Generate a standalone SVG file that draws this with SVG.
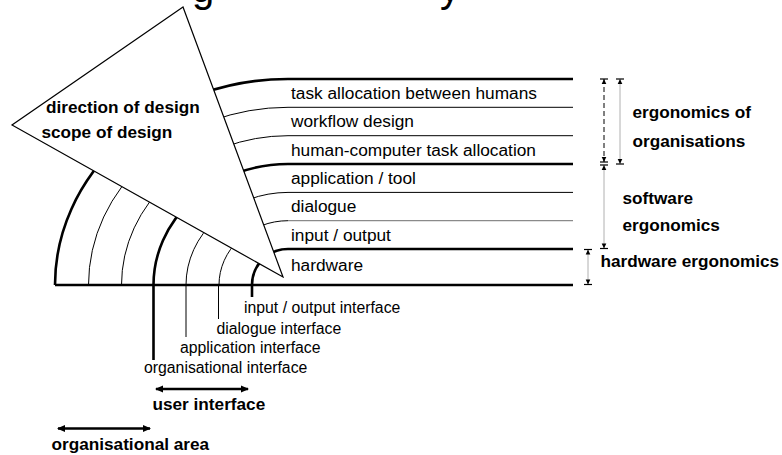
<svg xmlns="http://www.w3.org/2000/svg" width="782" height="455" viewBox="0 0 782 455">
  <style>
    text { font-family: "Liberation Sans", Arial, sans-serif; fill: #000; }
    .lbl { font-size: 17.3px; }
    .ifc { font-size: 15.8px; }
    .b { font-size: 17.2px; font-weight: bold; }
    .thin { fill: none; stroke: #000; stroke-width: 1; }
    .grey { fill: none; stroke: #8a8a8a; stroke-width: 1.3; }
    .thick { fill: none; stroke: #000; stroke-width: 2.6; }
    .dim { fill: none; stroke: #b0b0b0; stroke-width: 1; marker-start: url(#dimEnd); marker-end: url(#dimEnd); }
    .dimDash { fill: none; stroke: #000; stroke-width: 1; stroke-dasharray: 5 3; marker-start: url(#dimEnd); marker-end: url(#dimEnd); }
    .span { fill: none; stroke: #000; stroke-width: 2.4; marker-start: url(#arrowHead); marker-end: url(#arrowHead); }
  </style>
  <defs>
    <!-- dimension end: small filled head plus a cross tick -->
    <marker id="dimEnd" markerUnits="userSpaceOnUse" viewBox="-7 -5 8 10" refX="0" refY="0" markerWidth="8" markerHeight="10" orient="auto-start-reverse" overflow="visible">
      <path d="M0,0 L-5,-2.3 L-5,2.3 Z" fill="#000"/>
      <path d="M0,-4 L0,4" stroke="#000" stroke-width="1.2"/>
    </marker>
    <marker id="arrowHead" markerUnits="userSpaceOnUse" viewBox="-8 -4 9 8" refX="0" refY="0" markerWidth="9" markerHeight="8" orient="auto-start-reverse" overflow="visible">
      <path d="M1,0 L-7,-3.4 L-7,3.4 Z" fill="#000"/>
    </marker>
  </defs>

  <!-- heading fragments, clipped by the top edge -->
  <text x="192" y="2" style="font-size:40px">g</text>
  <text x="440" y="2" style="font-size:40px">y</text>

  <!-- layer boundaries: quarter ellipses around (288,285) that run into horizontal rules -->
  <g id="connectors">
    <path class="thick" d="M55,285 L573,285"/>
    <path class="thick" d="M252,285 A36,36 0 0 1 288,249 L573,249"/>
    <path class="thin"  d="M219,285 A69,64.3 0 0 1 288,220.7"/>
    <path class="grey"  d="M288,220.7 L573,220.7"/>
    <path class="thin"  d="M186,285 A102,92.6 0 0 1 288,192.4 L573,192.4"/>
    <path class="thick" d="M153.5,285 A134.5,121 0 0 1 288,164 L573,164"/>
    <path class="thin"  d="M121.5,285 A166.5,149.3 0 0 1 288,135.7 L573,135.7"/>
    <path class="thin"  d="M88.5,285 A199.5,177.7 0 0 1 288,107.3 L573,107.3"/>
    <path class="thick" d="M55,285 A233,206 0 0 1 288,79 L573,79"/>

    <!-- interface drop lines -->
    <path class="thick" d="M252,285 L252,297"/>
    <path class="thin"  d="M218.5,285 L218.5,319"/>
    <path class="thin"  d="M186,285 L186,337"/>
    <path class="thick" d="M153.5,285 L153.5,360"/>

    <!-- extent brackets on the right -->
    <path class="dimDash" d="M604,79 L604,162"/>
    <path class="dim" d="M620,79 L620,164"/>
    <path class="dim" d="M604,165 L604,248.5"/>
    <path class="dim" d="M588,249.5 L588,284.5"/>

    <!-- extent arrows below -->
    <path class="span" d="M156,389 L248,389"/>
    <path class="span" d="M58,428.5 L150,428.5"/>
  </g>

  <!-- design direction wedge -->
  <g id="wedge">
    <polygon points="183,7 12,125 283,277" fill="#fff" stroke="#000" stroke-width="1.2" stroke-linejoin="miter"/>
    <text class="b" x="46" y="113">direction of design</text>
    <text class="b" x="41.5" y="137.5">scope of design</text>
  </g>

  <!-- layers -->
  <g id="layer-task-allocation-humans"><text class="lbl" x="291" y="98.5">task allocation between humans</text></g>
  <g id="layer-workflow"><text class="lbl" x="291" y="127">workflow design</text></g>
  <g id="layer-hc-task-allocation"><text class="lbl" x="291" y="155.5">human-computer task allocation</text></g>
  <g id="layer-application"><text class="lbl" x="291" y="183.5">application / tool</text></g>
  <g id="layer-dialogue"><text class="lbl" x="291" y="212">dialogue</text></g>
  <g id="layer-io"><text class="lbl" x="291" y="240.5">input / output</text></g>
  <g id="layer-hardware"><text class="lbl" x="291" y="271">hardware</text></g>

  <!-- interfaces -->
  <g id="if-io"><text class="ifc" x="244" y="312.5">input / output interface</text></g>
  <g id="if-dialogue"><text class="ifc" x="216.5" y="334">dialogue interface</text></g>
  <g id="if-application"><text class="ifc" x="180" y="352.7">application interface</text></g>
  <g id="if-organisational"><text class="ifc" x="144" y="373.3">organisational interface</text></g>

  <!-- ergonomics domains -->
  <g id="dom-organisations">
    <text class="b" x="632.5" y="117.5">ergonomics of</text>
    <text class="b" x="632.5" y="147.3">organisations</text>
  </g>
  <g id="dom-software">
    <text class="b" x="622.5" y="204">software</text>
    <text class="b" x="622.5" y="231">ergonomics</text>
  </g>
  <g id="dom-hardware"><text class="b" x="600.5" y="267">hardware ergonomics</text></g>

  <!-- areas -->
  <g id="area-user-interface"><text class="b" x="152.5" y="410">user interface</text></g>
  <g id="area-organisational"><text class="b" x="51.5" y="450">organisational area</text></g>
</svg>
